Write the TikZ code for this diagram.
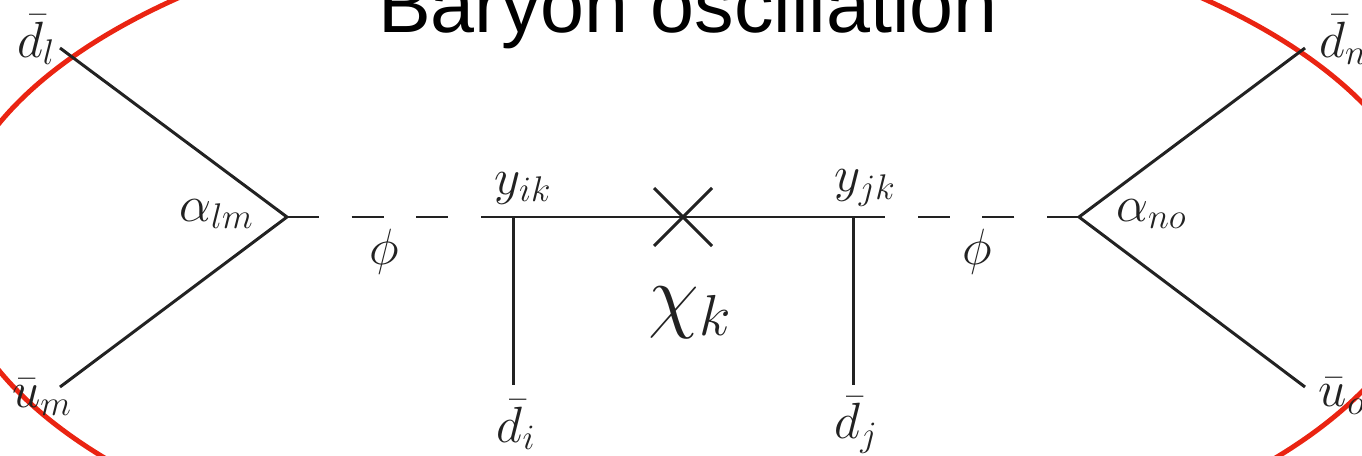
\documentclass[tikz,border=0pt]{standalone}
\usepackage{fix-cm}
\usepackage{fontspec}
\setsansfont{Liberation Sans}
\usetikzlibrary{positioning,calc}
\definecolor{ovalred}{RGB}{234,36,18}
\definecolor{linegray}{RGB}{34,34,34}

\tikzset{
  fermion/.style={draw=linegray, line width=1.7pt},
  scalar/.style={fermion, dash pattern=on 0.64cm off 0.654cm},
  lbl/.style={font=\fontsize{29}{34}\selectfont, inner sep=0pt, text=linegray},
}

\begin{document}
\begin{tikzpicture}[x=0.02cm,y=-0.02cm]
    \clip (0,0) rectangle (1362,456);
    \useasboundingbox (0,0) rectangle (1362,456);
    % vertices and line ends
    \coordinate (vl) at (287,217);
    \coordinate (vr) at (1079,217);
    \coordinate (dl) at (60,48);
    \coordinate (um) at (60,387);
    \coordinate (dn) at (1305,48);
    \coordinate (uo) at (1305,387);
    \coordinate (hl) at (481,217);
    \coordinate (hr) at (884,217);
    \coordinate (yi) at (513,217);
    \coordinate (yj) at (853,217);
    \coordinate (di) at (513,385);
    \coordinate (dj) at (853,385);
    \coordinate (mass) at (683,217);
    % the oval
    \draw[ovalred, line width=2.8pt] (690,247) ellipse [x radius=14.8cm, y radius=6.9cm];
    % title
    \node[anchor=base, inner sep=0pt, font=\sffamily\fontsize{45}{50}\selectfont] (title) at (688,33) {Baryon oscillation};
    % left vertex
    \draw[fermion] (dl) -- (vl) -- (um);
    \draw[scalar] (vl) -- (hl);
    % right vertex
    \draw[fermion] (dn) -- (vr) -- (uo);
    \draw[scalar] (vr) -- (hr);
    % chi line with mass insertion
    \draw[fermion] (hl) -- (hr);
    \draw[fermion] (yi) -- (di);
    \draw[fermion] (yj) -- (dj);
    \draw[fermion] ($(mass)+(-29,-29)$) -- ($(mass)+(29,29)$);
    \draw[fermion] ($(mass)+(-29,29)$) -- ($(mass)+(29,-29)$);
    % labels
    \node[lbl] (ldl) at (36,40) {$\bar{d}_l$};
    \node[lbl] (lum) at (42,397) {$\bar{u}_m$};
    \node[lbl] (ldn) at (1343,40) {$\bar{d}_n$};
    \node[lbl] (luo) at (1342,396) {$\bar{u}_o$};
    \node[lbl, anchor=east] (alm) at (254,214) {$\alpha_{lm}$};
    \node[lbl, anchor=west] (ano) at (1116,214) {$\alpha_{no}$};
    \node[lbl] (phil) at (384,252) {$\phi$};
    \node[lbl] (phir) at (977,252) {$\phi$};
    \node[lbl] (lyi) at (523,188) {$y_{ik}$};
    \node[lbl] (lyj) at (865,188) {$y_{jk}$};
    \node[lbl] (ldi) at (516,425) {$\bar{d}_i$};
    \node[lbl] (ldj) at (856,425) {$\bar{d}_j$};
    \node[lbl, font=\fontsize{47}{54}\selectfont] (chi) at (690,313) {$\chi_k$};
\end{tikzpicture}
\end{document}
